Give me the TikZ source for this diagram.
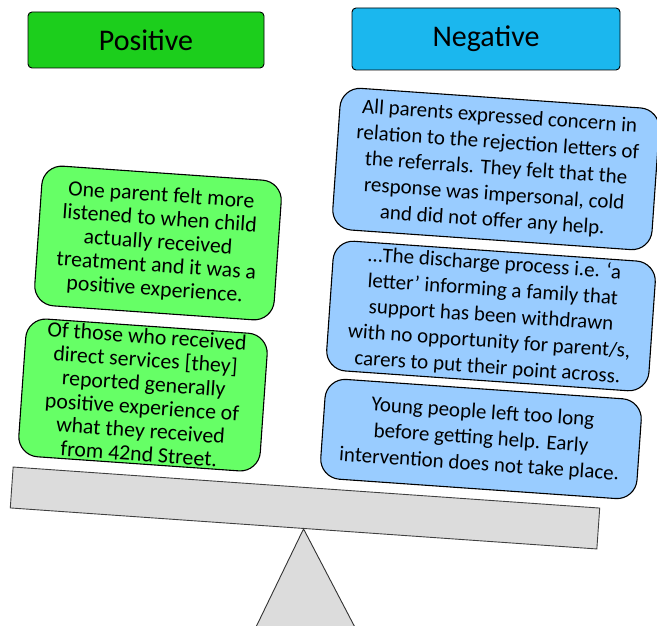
\documentclass[tikz,border=0pt]{standalone}
\usepackage{fontspec}
\setmainfont{Carlito}
\usetikzlibrary{positioning}

\definecolor{posgreen}{RGB}{28,206,28}
\definecolor{negblue}{RGB}{27,183,238}
\definecolor{lightgreen}{RGB}{102,255,102}
\definecolor{lightblue}{RGB}{153,204,255}
\definecolor{beamgray}{RGB}{220,220,220}

\begin{document}
\begin{tikzpicture}[x=1pt,y=-1pt,
  header/.style={draw,line width=0.9pt,rounded corners=4pt,font=\fontsize{30}{34}\selectfont},
  opinion/.style={draw,line width=1.1pt,rounded corners=20pt,align=center,rotate=-4,inner sep=0pt,
    font=\fontsize{21}{26}\selectfont},
  greenop/.style={opinion,fill=lightgreen,font=\fontsize{21.8}{23.6}\selectfont},
  blueop/.style={opinion,fill=lightblue}]
\clip (0,0) rectangle (657,626);
% seesaw
\node (beam) [draw=black!75,fill=beamgray,line width=0.9pt,rotate=-4,minimum width=588pt,minimum height=41pt] at (305,508) {};
\coordinate (baseL) at (241,658);
\coordinate (baseR) at (371,658);
\fill[beamgray] (beam.south) -- (baseL) -- (baseR) -- cycle;
\draw[black!80,line width=0.9pt] (baseL) -- (beam.south) -- (baseR);
% headings
\node (pos) [header,fill=posgreen,minimum width=236pt,minimum height=56pt] at (146,40) {Positive};
\node (neg) [header,fill=negblue,minimum width=268pt,minimum height=62pt] at (486,39) {Negative};
% positive side
\node (g1) [greenop,minimum width=240pt,minimum height=140pt] at (158,243)
  {One parent felt more\\listened to when child\\actually received\\treatment and it was a\\positive experience.};
\node (g2) [greenop,minimum width=242pt,minimum height=138pt] at (143,395)
  {Of those who received\\direct services [they]\\reported generally\\positive experience of\\what they received\\from 42nd Street.};
% negative side
\node (b1) [blueop,minimum width=320pt,minimum height=142pt] at (496,169)
  {All parents expressed concern in\\relation to the rejection letters of\\the referrals. They felt that the\\response was impersonal, cold\\and did not offer any help.};
\node (b2) [blueop,minimum width=323pt,minimum height=130pt] at (491,316)
  {…The discharge process i.e. ‘a\\letter’ informing a family that\\support has been withdrawn\\with no opportunity for parent/s,\\carers to put their point across.};
\node (b3) [blueop,minimum width=317pt,minimum height=100pt] at (481,439)
  {Young people left too long\\before getting help. Early\\intervention does not take place.};
\end{tikzpicture}
\end{document}
